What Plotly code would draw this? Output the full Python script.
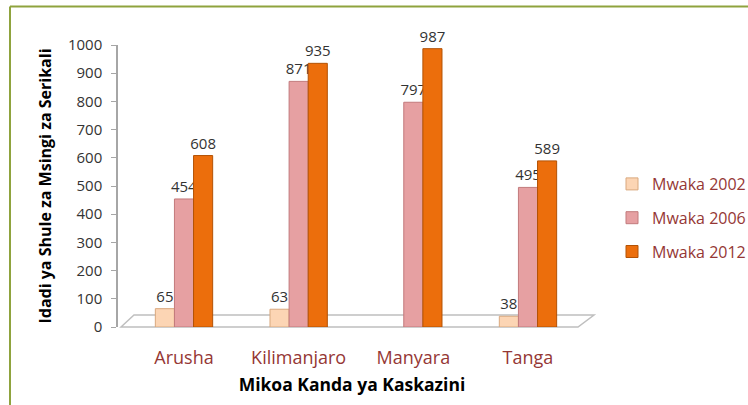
import plotly.graph_objects as go

categories = ["Arusha", "Kilimanjaro", "Manyara", "Tanga"]
series_names = ["Mwaka 2002", "Mwaka 2006", "Mwaka 2012"]
v2002 = [65, 63, None, 38]
v2006 = [454, 871, 797, 495]
v2012 = [608, 935, 987, 589]
y_ticks = [0, 100, 200, 300, 400, 500, 600, 700, 800, 900, 1000]

colors = ["#FCD5B4", "#E6A0A2", "#EC6E0C"]
edges = ["#D9A87E", "#C27A7C", "#B35205"]
values = [v2002, v2006, v2012]

FONT = "'Open Sans', sans-serif"
W, H = 748, 405
L, R, T, B = 118, 162, 45, 78
pw, ph = W - L - R, H - T - B

def px(x):
    return (x - L) / pw

def py(y):
    return (H - B - y) / ph

fig = go.Figure()
for i, (name, vals) in enumerate(zip(series_names, values)):
    fig.add_trace(go.Bar(
        x=categories, y=vals, name=name,
        marker=dict(color=colors[i], line=dict(color=edges[i], width=1)),
        text=[("" if v is None else str(v)) for v in vals],
        textposition="outside", cliponaxis=False,
        textfont=dict(family=FONT, size=15, color="#333333"),
        legendgroup=name,
    ))

shapes = [
    # floor
    dict(type="path", xref="paper", yref="paper",
         path=f"M {px(121)},{py(327)} L {px(134)},{py(315)} L {px(594)},{py(315)} L {px(578)},{py(327)} Z",
         line=dict(color="#BFBFBF", width=1.5), fillcolor="rgba(255,255,255,0)", layer="below"),
    # green frame top and left
    dict(type="line", xref="paper", yref="paper", x0=px(10), x1=px(748), y0=py(6.5), y1=py(6.5),
         line=dict(color="#8FA33E", width=2)),
    dict(type="line", xref="paper", yref="paper", x0=px(10), x1=px(10), y0=py(6.5), y1=py(405),
         line=dict(color="#8FA33E", width=2)),
]

fig.update_layout(
    width=W, height=H,
    margin=dict(l=L, r=R, t=T, b=B, pad=0, autoexpand=False),
    paper_bgcolor="white", plot_bgcolor="white",
    barmode="group", bargap=0.5, bargroupgap=0,
    font=dict(family=FONT, color="#333333"),
    uniformtext=dict(minsize=15, mode="show"),
    shapes=shapes,
    showlegend=True,
    legend=dict(x=px(612), y=py(167), xanchor="left", yanchor="top",
                traceorder="grouped", tracegroupgap=10,
                font=dict(family=FONT, size=16, color="#953735"),
                itemwidth=30, bgcolor="rgba(0,0,0,0)"),
    xaxis=dict(range=[-0.5756, 3.506], showline=False, ticks="", showgrid=False,
               ticklabelstandoff=18,
               tickfont=dict(family=FONT, size=18, color="#953735"),
               title=dict(text="<b>Mikoa Kanda ya Kaskazini</b>", standoff=10,
                          font=dict(family=FONT, size=17.5, color="#000000"))),
    yaxis=dict(range=[0, 1000], tickvals=y_ticks, showgrid=False, zeroline=False,
               showline=True, linecolor="#A6A6A6", linewidth=1.5,
               ticks="outside", ticklen=5, tickcolor="#A6A6A6",
               ticklabelstandoff=6,
               tickfont=dict(family=FONT, size=15, color="#333333"),
               title=dict(text="<b>Idadi ya Shule za Msingi za Serikali</b>", standoff=12,
                          font=dict(family=FONT, size=16, color="#000000"))),
)

fig.write_html("out.html", config={"displayModeBar": False},
               post_script="document.body.style.margin='0';")
